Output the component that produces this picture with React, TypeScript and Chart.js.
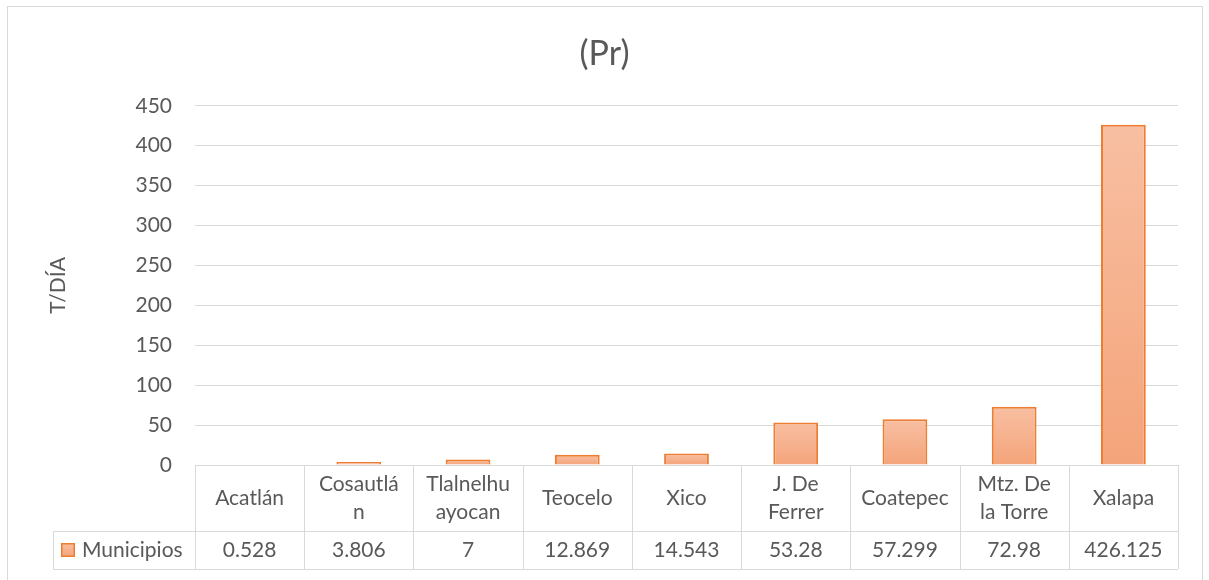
import React, { useEffect, useRef } from "react";
import { Chart, registerables } from "chart.js";

Chart.register(...registerables);

// ---- data ----
const categories: string[][] = [
  ["Acatlán"],
  ["Cosautlá", "n"],
  ["Tlalnelhu", "ayocan"],
  ["Teocelo"],
  ["Xico"],
  ["J. De", "Ferrer"],
  ["Coatepec"],
  ["Mtz. De", "la Torre"],
  ["Xalapa"],
];
const values: number[] = [0.528, 3.806, 7, 12.869, 14.543, 53.28, 57.299, 72.98, 426.125];
const valueLabels: string[] = ["0.528", "3.806", "7", "12.869", "14.543", "53.28", "57.299", "72.98", "426.125"];
const seriesName = "Municipios";
const chartTitle = "(Pr)";
const yAxisTitle = "T/DÍA";
const yMax = 450;
const yStep = 50;

const FONT = "Lato";
const TEXT = "#595959";
const GRID = "#D9D9D9";
const ORANGE = "#ED7D31";
const FILL_TOP = "#F8BFA2";
const FILL_BOTTOM = "#F4A47A";

const tablePlugin = {
  id: "dataTable",
  afterDraw(chart: any) {
    const { ctx, chartArea } = chart;
    const xs = chart.scales.x;
    const n = categories.length;
    const left = chartArea.left;
    const right = chartArea.right;
    const colW = (right - left) / n;
    const top = chartArea.bottom;
    const row1 = top + 66;
    const row2 = row1 + 38;
    const legLeft = 53;
    const px = (v: number) => Math.round(v) + 0.5;

    ctx.save();
    // outer border
    ctx.strokeStyle = GRID;
    ctx.lineWidth = 1;
    ctx.strokeRect(7.5, 6.5, 1195, 600);

    ctx.strokeStyle = GRID;
    ctx.lineWidth = 1;
    ctx.beginPath();
    ctx.moveTo(left, px(top));
    ctx.lineTo(right, px(top));
    ctx.moveTo(legLeft, px(row1));
    ctx.lineTo(right, px(row1));
    ctx.moveTo(legLeft, px(row2));
    ctx.lineTo(right, px(row2));
    for (let i = 0; i <= n; i++) {
      const x = px(left + i * colW);
      ctx.moveTo(x, top);
      ctx.lineTo(x, row2);
    }
    ctx.moveTo(px(legLeft), row1);
    ctx.lineTo(px(legLeft), row2);
    ctx.stroke();

    ctx.fillStyle = TEXT;
    ctx.font = `21px ${FONT}`;
    ctx.textAlign = "center";
    ctx.textBaseline = "middle";
    const lh = 28;
    const mid1 = (top + row1) / 2;
    const mid2 = (row1 + row2) / 2;
    categories.forEach((lines, i) => {
      const cx = xs.getPixelForValue(i);
      const start = mid1 - ((lines.length - 1) * lh) / 2;
      lines.forEach((t, j) => ctx.fillText(t, cx, start + j * lh));
      ctx.fillText(valueLabels[i], cx, mid2);
    });

    // legend key
    const kx = 61, ky = mid2 - 7, ks = 14;
    const g = ctx.createLinearGradient(0, ky, 0, ky + ks);
    g.addColorStop(0, FILL_TOP);
    g.addColorStop(1, FILL_BOTTOM);
    ctx.fillStyle = g;
    ctx.fillRect(kx, ky, ks, ks);
    ctx.strokeStyle = ORANGE;
    ctx.lineWidth = 1.5;
    ctx.strokeRect(kx + 0.75, ky + 0.75, ks - 1.5, ks - 1.5);
    ctx.fillStyle = TEXT;
    ctx.textAlign = "left";
    ctx.fillText(seriesName, 82, mid2);
    ctx.restore();
  },
};

export default function App() {
  const ref = useRef<HTMLCanvasElement | null>(null);

  useEffect(() => {
    if (!ref.current) return;
    const chart = new Chart(ref.current, {
      type: "bar",
      data: {
        labels: categories,
        datasets: [
          {
            label: seriesName,
            data: values,
            backgroundColor: (c: any) => {
              const ch = c.chart;
              if (!ch.chartArea || c.type !== "data") return FILL_BOTTOM;
              const y = ch.scales.y;
              const bottom = y.getPixelForValue(0);
              const top = Math.min(y.getPixelForValue(values[c.dataIndex]), bottom - 1);
              const g = ch.ctx.createLinearGradient(0, top, 0, bottom);
              g.addColorStop(0, FILL_TOP);
              g.addColorStop(1, FILL_BOTTOM);
              return g;
            },
            borderColor: ORANGE,
            borderWidth: 2,
            barPercentage: 0.41,
            categoryPercentage: 1,
          },
        ],
      },
      options: {
        responsive: false,
        devicePixelRatio: 1,
        animation: false,
        layout: { padding: { top: 0, left: 0, right: 0, bottom: 115 } },
        plugins: {
          legend: { display: false },
          tooltip: { enabled: false },
          title: {
            display: true,
            text: chartTitle,
            color: TEXT,
            font: { family: FONT, size: 34, weight: "normal" },
            padding: { top: 34, bottom: 31 },
          },
        },
        scales: {
          x: { display: false },
          y: {
            min: 0,
            max: yMax,
            afterFit: (s: any) => {
              s.width = 195;
            },
            ticks: {
              stepSize: yStep,
              padding: 23,
              color: TEXT,
              font: { family: FONT, size: 21 },
            },
            grid: { color: GRID, lineWidth: 1, drawTicks: false },
            border: { display: false },
            title: {
              display: true,
              text: yAxisTitle,
              color: TEXT,
              font: { family: FONT, size: 21 },
              padding: { top: 46, bottom: 0 },
            },
          },
          yRight: {
            position: "right",
            min: 0,
            max: yMax,
            afterFit: (s: any) => {
              s.width = 31;
            },
            ticks: { display: false },
            grid: { display: false, drawOnChartArea: false, drawTicks: false },
            border: { display: false },
          },
        },
      },
      plugins: [tablePlugin],
    });
    return () => chart.destroy();
  }, []);

  return (
    <div style={{ position: "absolute", left: 0, top: 0, width: 1209, height: 580, background: "#fff" }}>
      <canvas ref={ref} width={1209} height={580} style={{ display: "block" }} />
    </div>
  );
}
